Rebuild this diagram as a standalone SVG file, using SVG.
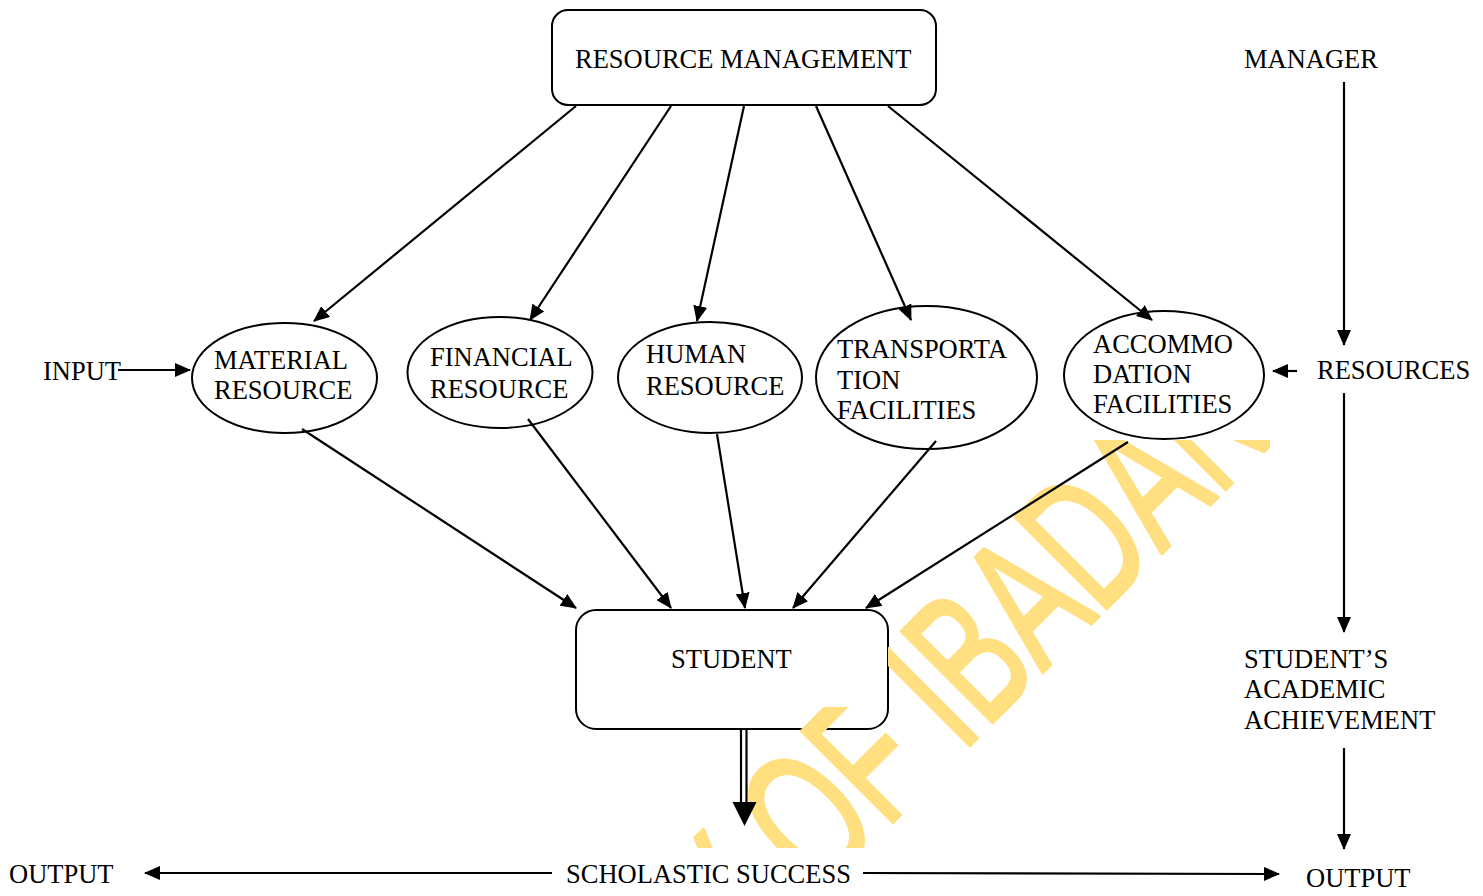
<svg xmlns="http://www.w3.org/2000/svg" width="1483" height="896" viewBox="0 0 1483 896">
  <style>
    .t { font-family: "Liberation Serif", "Times New Roman", serif; font-size: 26.5px; fill: #000; }
    .box { fill: #fff; stroke: #000; stroke-width: 2; }
    .ell { fill: #fff; stroke: #000; stroke-width: 2; }
    .ln { stroke: #000; stroke-width: 2.2; fill: none; }
    .arrow { marker-end: url(#arr); }
    .wm { font-family: "Liberation Sans", Arial, sans-serif; font-size: 200px; fill: #FFDF80; stroke: #FFDF80; stroke-width: 4; stroke-linejoin: round; }
  </style>
  <defs>
    <marker id="arr" viewBox="0 0 16 14" refX="15" refY="7" markerWidth="16" markerHeight="14" orient="auto" markerUnits="userSpaceOnUse">
      <path d="M0,0 L16,7 L0,14 z" fill="#000"/>
    </marker>
    <clipPath id="wmclip">
      <rect x="0" y="440" width="576" height="408"/>
      <rect x="576" y="707" width="274" height="141"/>
      <rect x="850" y="729" width="38" height="119"/>
      <rect x="888" y="440" width="382" height="408"/>
    </clipPath>
  </defs>

  <rect width="1483" height="896" fill="#fff"/>

  <g id="resource-management">
    <rect class="box" x="552" y="10" width="384" height="95" rx="16"/>
    <text class="t" x="575" y="68">RESOURCE MANAGEMENT</text>
  </g>

  <g id="material-resource">
    <ellipse class="ell" cx="284.5" cy="378" rx="92.5" ry="55"/>
    <text class="t" x="214" y="369">MATERIAL</text>
    <text class="t" x="214" y="399">RESOURCE</text>
  </g>

  <g id="financial-resource">
    <ellipse class="ell" cx="500" cy="372.5" rx="92.5" ry="55.5"/>
    <text class="t" x="430" y="366">FINANCIAL</text>
    <text class="t" x="430" y="398">RESOURCE</text>
  </g>

  <g id="human-resource">
    <ellipse class="ell" cx="710" cy="377.5" rx="92" ry="55.5"/>
    <text class="t" x="646" y="363">HUMAN</text>
    <text class="t" x="646" y="395">RESOURCE</text>
  </g>

  <g id="transportation-facilities">
    <ellipse class="ell" cx="926.5" cy="377.5" rx="110.5" ry="71.5"/>
    <text class="t" x="837" y="358">TRANSPORTA</text>
    <text class="t" x="837" y="389">TION</text>
    <text class="t" x="837" y="419">FACILITIES</text>
  </g>

  <g id="accommodation-facilities">
    <ellipse class="ell" cx="1164" cy="375" rx="100" ry="64"/>
    <text class="t" x="1093" y="353">ACCOMMO</text>
    <text class="t" x="1093" y="383">DATION</text>
    <text class="t" x="1093" y="413">FACILITIES</text>
  </g>

  <g id="student">
    <rect class="box" x="576" y="610" width="312" height="119" rx="20"/>
    <text class="t" x="671" y="668">STUDENT</text>
  </g>

  <!-- diagonal background watermark, clipped to the lower band -->
  <g id="watermark" clip-path="url(#wmclip)">
    <text class="wm" transform="translate(975,740) rotate(-45) scale(0.605,0.935)" x="-1617" y="0">UNIVERSITY OF IBADAN LIBRARY</text>
  </g>

  <g id="input"><text class="t" x="43" y="380">INPUT</text></g>
  <g id="manager"><text class="t" x="1244" y="68">MANAGER</text></g>
  <g id="resources"><text class="t" x="1317" y="379">RESOURCES</text></g>
  <g id="achievement">
    <text class="t" x="1244" y="668">STUDENT’S</text>
    <text class="t" x="1244" y="698">ACADEMIC</text>
    <text class="t" x="1244" y="729">ACHIEVEMENT</text>
  </g>
  <g id="output-left"><text class="t" x="9" y="883">OUTPUT</text></g>
  <g id="scholastic-success"><text class="t" x="566" y="883">SCHOLASTIC SUCCESS</text></g>
  <g id="output-right"><text class="t" x="1306" y="887">OUTPUT</text></g>

  <!-- connectors -->
  <g id="connectors">
    <line class="ln arrow" x1="576" y1="106" x2="314" y2="321"/>
    <line class="ln arrow" x1="671" y1="106" x2="530" y2="320"/>
    <line class="ln arrow" x1="744" y1="106" x2="697" y2="321"/>
    <line class="ln arrow" x1="816" y1="106" x2="911" y2="320"/>
    <line class="ln arrow" x1="888" y1="106" x2="1152" y2="320"/>

    <line class="ln arrow" x1="302" y1="429" x2="576" y2="608"/>
    <line class="ln arrow" x1="528" y1="419" x2="671" y2="608"/>
    <line class="ln arrow" x1="717" y1="434" x2="745" y2="608"/>
    <line class="ln arrow" x1="936" y1="441" x2="793" y2="608"/>
    <line class="ln arrow" x1="1128" y1="442" x2="866" y2="608"/>

    <line class="ln arrow" x1="118" y1="370" x2="190" y2="370"/>
    <line class="ln arrow" x1="1297" y1="371" x2="1273" y2="371"/>

    <line class="ln arrow" x1="1344" y1="82" x2="1344" y2="345"/>
    <line class="ln arrow" x1="1344" y1="393" x2="1344" y2="632"/>
    <line class="ln arrow" x1="1344" y1="748" x2="1344" y2="849"/>

    <line class="ln arrow" x1="552" y1="873" x2="145" y2="873"/>
    <line class="ln arrow" x1="863" y1="873" x2="1279" y2="874"/>

    <!-- double-line arrow from STUDENT -->
    <line class="ln" x1="741" y1="730" x2="741" y2="803" stroke-width="2"/>
    <line class="ln" x1="746.5" y1="730" x2="746.5" y2="803" stroke-width="2"/>
    <path d="M732.5,802 L756.5,802 L744.5,826 z" fill="#000"/>
  </g>
</svg>
